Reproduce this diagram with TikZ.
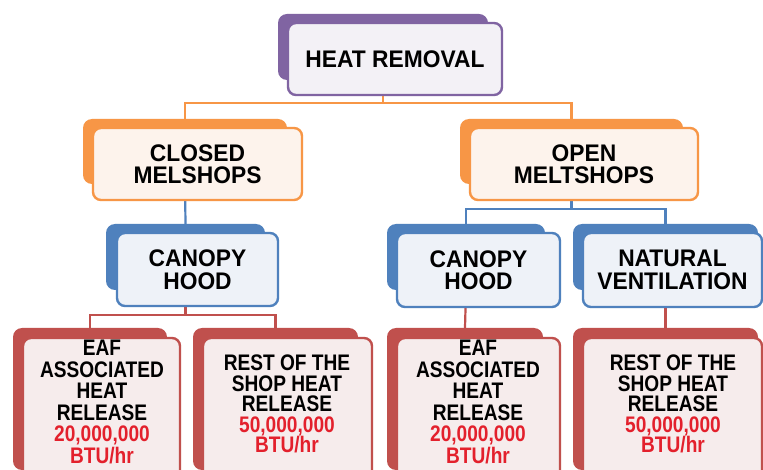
\documentclass[tikz,border=0pt]{standalone}
\usepackage{fontspec}
\newfontfamily\hdrfont[FakeStretch=0.95]{Liberation Sans}
\newfontfamily\redfont[FakeStretch=0.85]{Liberation Sans}
\definecolor{purpC}{HTML}{8064A2}
\definecolor{purpF}{HTML}{F3F1F6}
\definecolor{oranC}{HTML}{F79646}
\definecolor{oranF}{HTML}{FDF3EC}
\definecolor{blueC}{HTML}{4F81BD}
\definecolor{blueF}{HTML}{EEF2F8}
\definecolor{redC}{HTML}{C0504D}
\definecolor{redF}{HTML}{F6ECEC}
\definecolor{numC}{HTML}{E3202C}
\tikzset{
  backbox/.style={fill=#1, draw=none, rounded corners=9pt, inner sep=0pt},
  frontbox/.style={draw=#1, line width=2.4pt, rounded corners=8pt, inner sep=0pt, align=center, text=black},
  conn/.style={draw=#1, line width=2.2pt},
  hdr/.style={font=\hdrfont\bfseries\fontsize{24}{22.5}\selectfont},
  redtxt/.style={align=center, inner sep=0pt, font=\redfont\bfseries\fontsize{22.5}{21.5}\selectfont},
  redtxtb/.style={align=center, inner sep=0pt, font=\redfont\bfseries\fontsize{22.5}{20.5}\selectfont},
}
\newcommand{\numtxt}[1]{\textcolor{numC}{#1}}
\begin{document}
\begin{tikzpicture}[x=1pt,y=-1pt]
\useasboundingbox (0,0) rectangle (763,470);
\clip (0,0) rectangle (763,470);
\fill[white] (0,0) rectangle (763,470);

% back boxes
\node[backbox=purpC, minimum width=210, minimum height=66] (hrB) at (383,47) {};
\node[backbox=oranC, minimum width=204, minimum height=65] (closedB) at (185,151.5) {};
\node[backbox=oranC, minimum width=223, minimum height=65] (openB) at (571.5,151.5) {};
\node[backbox=blueC, minimum width=159, minimum height=66] (can1B) at (185.5,257) {};
\node[backbox=blueC, minimum width=158, minimum height=66] (can2B) at (466,257) {};
\node[backbox=blueC, minimum width=185, minimum height=66] (natB) at (665.5,257) {};
\node[backbox=redC, minimum width=154, minimum height=142] (eaf1B) at (90,399) {};
\node[backbox=redC, minimum width=165, minimum height=142] (rest1B) at (275.5,399) {};
\node[backbox=redC, minimum width=156, minimum height=142] (eaf2B) at (465,399) {};
\node[backbox=redC, minimum width=185, minimum height=142] (rest2B) at (665.5,399) {};

% connectors
\draw[conn=oranC] (hrB.south) -- ++(0,23) -| (closedB.north);
\draw[conn=oranC] (hrB.south) -- ++(0,23) -| (openB.north);
\draw[conn=blueC] (closedB.south) -- (can1B.north);
\draw[conn=blueC] (openB.south) -- ++(0,25) -| (can2B.north);
\draw[conn=blueC] (openB.south) -- ++(0,25) -| (natB.north);
\draw[conn=redC] (can1B.south) -- ++(0,25) -| (eaf1B.north);
\draw[conn=redC] (can1B.south) -- ++(0,25) -| (rest1B.north);
\draw[conn=redC] (can2B.south) -- (eaf2B.north);
\draw[conn=redC] (natB.south) -- (rest2B.north);

% front boxes
\node[frontbox=purpC, fill=purpF, hdr, minimum width=214, minimum height=72] (hr) at (395,59) {HEAT REMOVAL};
\node[frontbox=oranC, fill=oranF, hdr, minimum width=209, minimum height=72] (closed) at (197.5,164) {CLOSED\\MELSHOPS};
\node[frontbox=oranC, fill=oranF, hdr, minimum width=228, minimum height=72] (open) at (584,164) {OPEN\\MELTSHOPS};
\node[frontbox=blueC, fill=blueF, hdr, minimum width=161, minimum height=73] (can1) at (197.5,269.5) {CANOPY\\HOOD};
\node[frontbox=blueC, fill=blueF, hdr, minimum width=163, minimum height=74] (can2) at (478.5,270) {CANOPY\\HOOD};
\node[frontbox=blueC, fill=blueF, hdr, minimum width=179, minimum height=74] (nat) at (672.5,270) {NATURAL\\VENTILATION};
\node[frontbox=redC, fill=redF, minimum width=157, minimum height=140] (eaf1) at (101.5,408) {};
\node[frontbox=redC, fill=redF, minimum width=169, minimum height=140] (rest1) at (287.5,408) {};
\node[frontbox=redC, fill=redF, minimum width=163, minimum height=140] (eaf2) at (478.5,408) {};
\node[frontbox=redC, fill=redF, minimum width=179, minimum height=140] (rest2) at (672.5,408) {};

% texts of the lower boxes
\node[redtxt] (eaf1t) at (102,402) {EAF\\ASSOCIATED\\HEAT\\RELEASE\\\numtxt{20,000,000}\\\numtxt{BTU/hr}};
\node[redtxtb] (rest1t) at (287,404) {REST OF THE\\SHOP HEAT\\RELEASE\\\numtxt{50,000,000}\\\numtxt{BTU/hr}};
\node[redtxt] (eaf2t) at (478,402) {EAF\\ASSOCIATED\\HEAT\\RELEASE\\\numtxt{20,000,000}\\\numtxt{BTU/hr}};
\node[redtxtb] (rest2t) at (673,404) {REST OF THE\\SHOP HEAT\\RELEASE\\\numtxt{50,000,000}\\\numtxt{BTU/hr}};
\end{tikzpicture}
\end{document}
